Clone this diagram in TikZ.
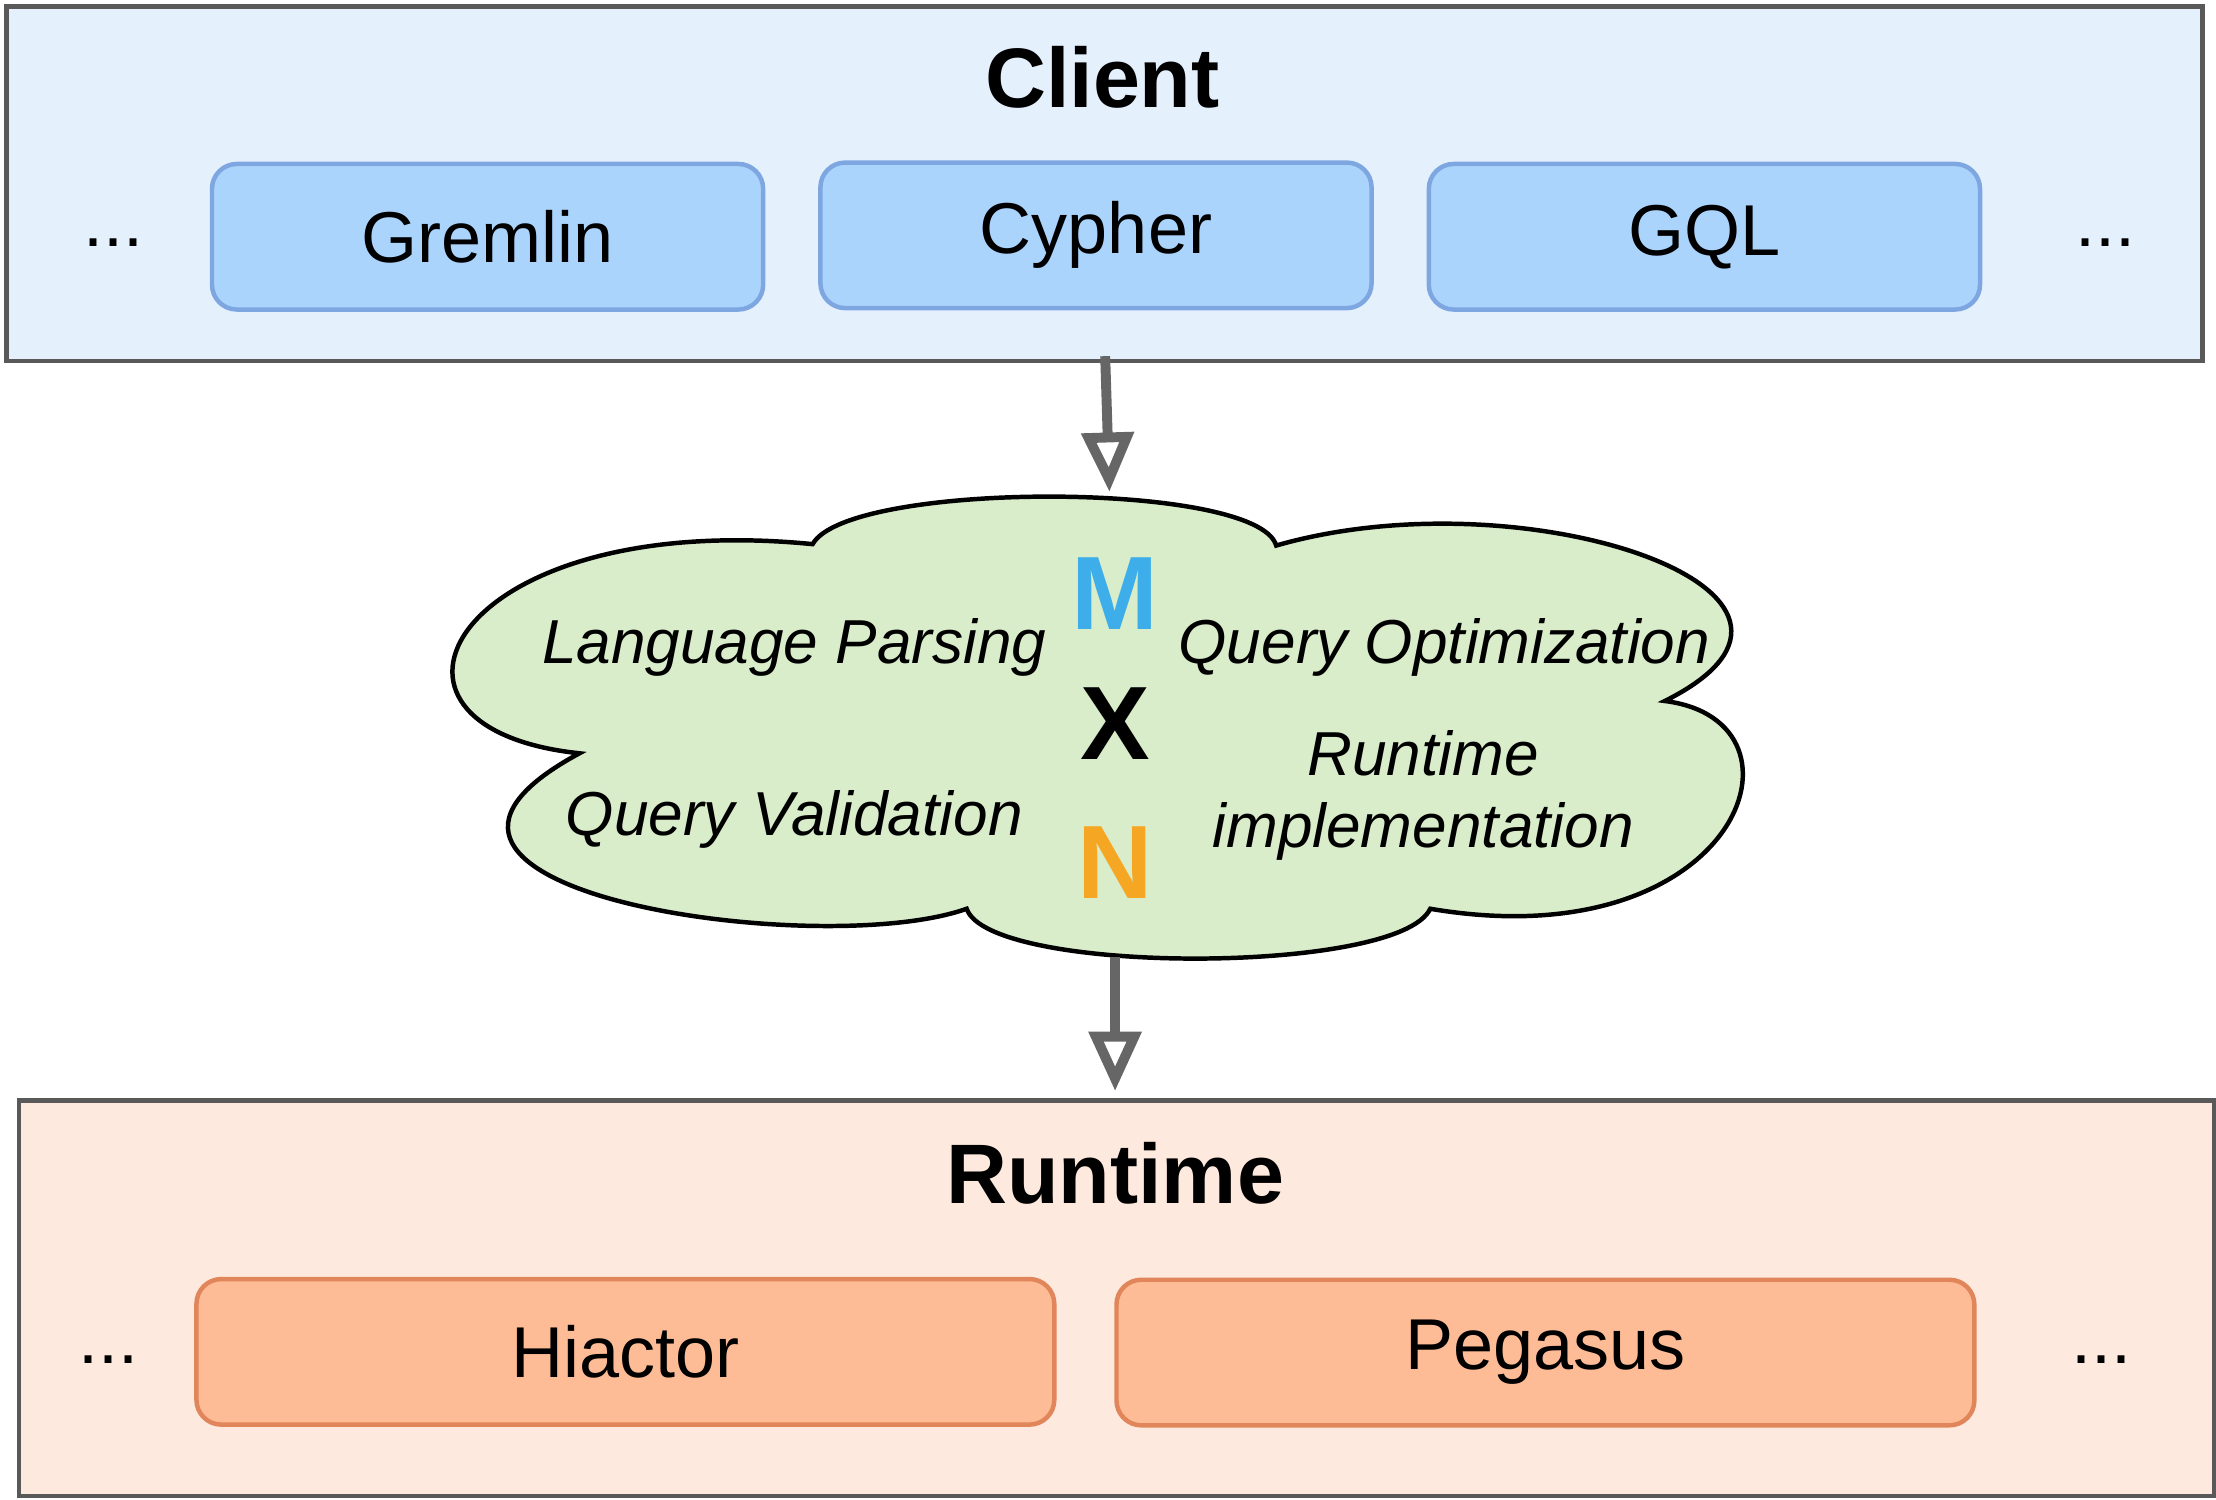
\documentclass[tikz,border=0pt]{standalone}
\usepackage{fontspec}
\setmainfont{Liberation Sans}
\usetikzlibrary{arrows.meta}
\definecolor{clientbg}{HTML}{E4F1FD}
\definecolor{clientbox}{HTML}{ABD4FD}
\definecolor{clientline}{HTML}{7EA6E0}
\definecolor{runbg}{HTML}{FDE9DD}
\definecolor{runbox}{HTML}{FEBC96}
\definecolor{runline}{HTML}{E0865A}
\definecolor{cloudbg}{HTML}{D9EDCA}
\definecolor{mblue}{HTML}{3DAEE9}
\definecolor{norange}{HTML}{F5A623}
\tikzset{
  layer/.style={draw=black!65, line width=0.9pt, anchor=north west, inner sep=0pt},
  lang/.style={draw=clientline, fill=clientbox, rounded corners=5pt, line width=0.9pt,
    minimum width=3.9cm, minimum height=1.03cm, font=\fontsize{14.5}{17}\selectfont},
  engine/.style={draw=runline, fill=runbox, rounded corners=5pt, line width=0.9pt,
    minimum width=6.07cm, minimum height=1.03cm, font=\fontsize{14.5}{17}\selectfont},
  title/.style={font=\bfseries\fontsize{17}{20}\selectfont},
  phase/.style={font=\itshape\fontsize{12.5}{14.5}\selectfont, align=center},
  letter/.style={font=\bfseries\fontsize{21}{24}\selectfont},
  flow/.style={draw=black!60, line width=2pt, -{Triangle[open, length=0.42cm, width=0.36cm]}}
}
\begin{document}
\begin{tikzpicture}
    \useasboundingbox (0,0) rectangle (15.68,-10.61);

    % Client layer
    \node[layer, fill=clientbg, minimum width=15.54cm, minimum height=2.51cm] (client) at (0.03,-0.03) {};
    \node[title] (clientt) at (7.8,-0.55) {Client};
    \node[lang] (gremlin) at (3.45,-1.675) {Gremlin};
    \node[lang] (cypher) at (7.755,-1.665) {Cypher};
    \node[lang] (gql) at (12.06,-1.675) {GQL};
    \node[font=\fontsize{14.5}{17}\selectfont] (cdl) at (0.8,-1.72) {...};
    \node[font=\fontsize{14.5}{17}\selectfont] (cdr) at (14.9,-1.72) {...};

    % Compiler cloud
    \draw[fill=cloudbg, line width=0.9pt]
      (5.75,-3.85) .. controls (6.0,-3.4) and (8.9,-3.4) .. (9.03,-3.86)
      .. controls (10.8,-3.35) and (13.3,-4.2) .. (11.78,-4.96)
      .. controls (12.9,-5.1) and (12.3,-6.8) .. (10.12,-6.43)
      .. controls (9.9,-6.9) and (7.0,-6.9) .. (6.84,-6.43)
      .. controls (5.8,-6.8) and (2.3,-6.3) .. (4.10,-5.33)
      .. controls (2.4,-5.15) and (3.2,-3.6) .. cycle;
    \node[phase] (parse) at (5.62,-4.58) {Language Parsing};
    \node[phase] (opt) at (10.22,-4.58) {Query Optimization};
    \node[phase] (valid) at (5.62,-5.8) {Query Validation};
    \node[phase] (impl) at (10.07,-5.63) {Runtime\\implementation};
    \node[letter, text=mblue] (m) at (7.89,-4.2) {M};
    \node[letter] (x) at (7.89,-5.12) {X};
    \node[letter, text=norange] (n) at (7.89,-6.1) {N};

    % Runtime layer
    \node[layer, fill=runbg, minimum width=15.53cm, minimum height=2.8cm] (runtime) at (0.12,-7.77) {};
    \node[title] (runtimet) at (7.89,-8.3) {Runtime};
    \node[engine] (hiactor) at (4.425,-9.565) {Hiactor};
    \node[engine] (pegasus) at (10.935,-9.57) {Pegasus};
    \node[font=\fontsize{14.5}{17}\selectfont] (rdl) at (0.77,-9.62) {...};
    \node[font=\fontsize{14.5}{17}\selectfont] (rdr) at (14.87,-9.62) {...};

    % Arrows
    \coordinate (a1) at (7.82,-2.52);
    \coordinate (a2) at (7.85,-3.48);
    \coordinate (b1) at (7.89,-6.77);
    \coordinate (b2) at (7.89,-7.72);
    \draw[flow] (a1) -- (a2);
    \draw[flow] (b1) -- (b2);

\end{tikzpicture}
\end{document}
